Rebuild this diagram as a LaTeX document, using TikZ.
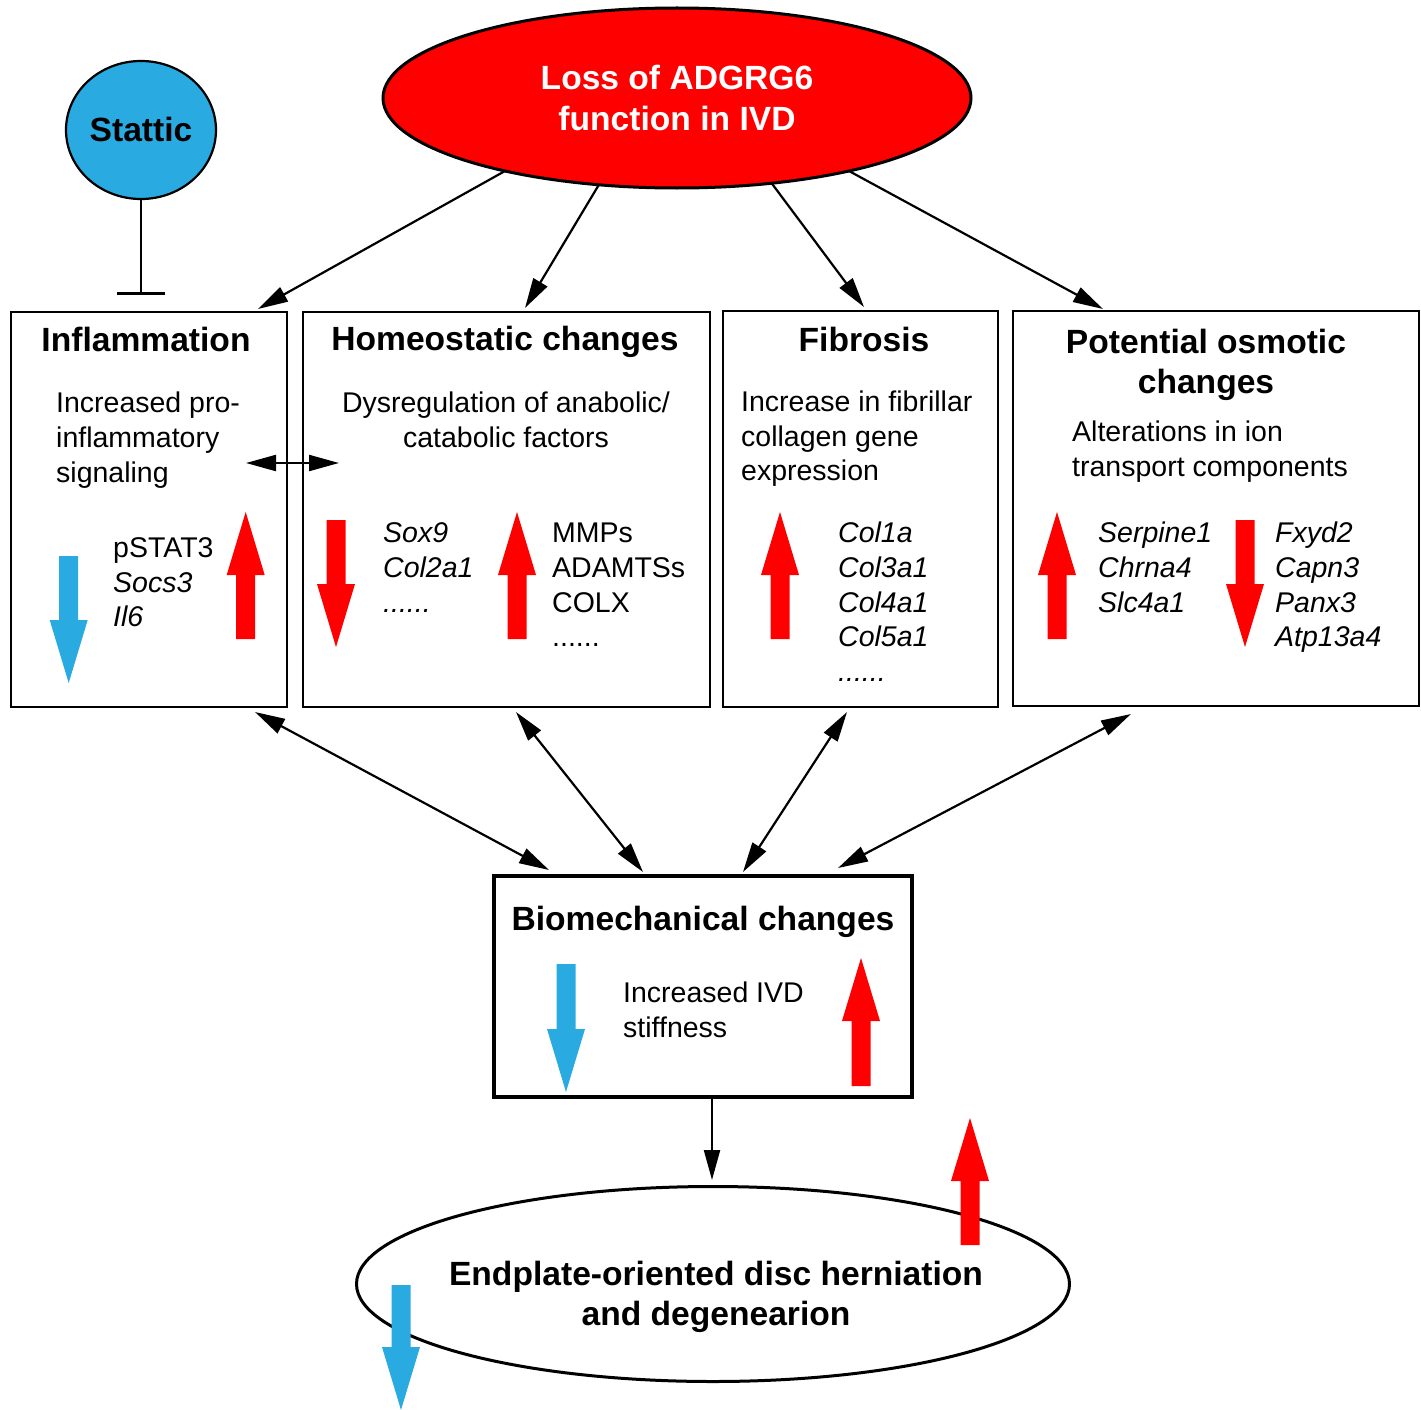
\documentclass[tikz,border=0pt]{standalone}
\usepackage{fontspec}
\setmainfont{Liberation Sans}
\usetikzlibrary{arrows.meta,shapes.geometric}
\definecolor{myred}{HTML}{FF0000}
\definecolor{myblue}{HTML}{29ABE2}
% block arrows: colour, x, tip y, bottom y  /  colour, x, top y, tip y
\newcommand\upArr[4]{\fill[#1] (#2,#3) -- ({#2+19},{#3+63}) -- ({#2+9.5},{#3+63}) -- ({#2+9.5},#4) -- ({#2-9.5},#4) -- ({#2-9.5},{#3+63}) -- ({#2-19},{#3+63}) -- cycle;}
\newcommand\downArr[4]{\fill[#1] ({#2-9.5},#3) -- ({#2+9.5},#3) -- ({#2+9.5},{#4-63}) -- ({#2+19},{#4-63}) -- (#2,#4) -- ({#2-19},{#4-63}) -- ({#2-9.5},{#4-63}) -- cycle;}
\tikzset{
  ttl/.style={font=\fontsize{33.6}{40}\selectfont\bfseries, inner sep=0, anchor=base},
  txt/.style={font=\fontsize{28.5}{35}\selectfont, inner sep=0, anchor=base west},
  ctxt/.style={txt, anchor=base},
  gene/.style={font=\fontsize{28.5}{35}\selectfont\itshape, inner sep=0, anchor=base west},
  panel/.style={draw, line width=2.5pt, anchor=north west, inner sep=0, outer sep=0},
  arr/.style={line width=2.2pt, -{Triangle[length=30pt,width=16pt]}},
  darr/.style={line width=2.2pt, {Triangle[length=30pt,width=16pt]}-{Triangle[length=30pt,width=16pt]}},
}
\begin{document}
\begin{tikzpicture}[x=1pt,y=-1pt]
\useasboundingbox[fill=white] (0,0) rectangle (1421,1410);

% top ellipse
\node[ellipse, draw, line width=3pt, fill=myred, minimum width=588pt, minimum height=180pt, inner sep=0, outer sep=0] (loss) at (677,98) {};
\node[ttl, text=white] (loss1) at (677,90) {Loss of ADGRG6};
\node[ttl, text=white] (loss2) at (677,131) {function in IVD};

% Stattic
\node[ellipse, draw, line width=2.2pt, fill=myblue, minimum width=150pt, minimum height=138pt, inner sep=0, outer sep=0] (stattic) at (141,130) {};
\node[ttl] (stattxt) at (141,142) {Stattic};
\coordinate (bar) at (141,295);
\draw[line width=2.2pt, -{Bar[width=48pt,line width=2.8pt]}] (stattic.south) -- (bar);

% panels
\node[panel, minimum width=276pt, minimum height=395pt] (infl) at (11,312) {};
\node[panel, minimum width=407pt, minimum height=395pt] (homeo) at (303,312) {};
\node[panel, minimum width=275pt, minimum height=396pt] (fib) at (723,311) {};
\node[panel, minimum width=406pt, minimum height=395pt] (osm) at (1013,311) {};
\node[panel, line width=4pt, minimum width=418pt, minimum height=221pt] (bio) at (494,876) {};

% bottom ellipse
\node[ellipse, draw, line width=3pt, minimum width=713pt, minimum height=195pt, inner sep=0, outer sep=0] (endp) at (713,1284) {};
\node[ttl] (endp1) at (716,1285) {Endplate-oriented disc herniation};
\node[ttl] (endp2) at (716,1325) {and degenearion};

% Inflammation panel
\node[ttl] (inflT) at (146,351) {Inflammation};
\node[txt] (inflA) at (56,412) {Increased pro-};
\node[txt] (inflB) at (56,447) {inflammatory};
\node[txt] (inflC) at (56,482) {signaling};
\node[txt] (inflG1) at (113,557) {pSTAT3};
\node[gene] (inflG2) at (113,592) {Socs3};
\node[gene] (inflG3) at (113,626) {Il6};
\downArr{myblue}{68.7}{556}{683}
\upArr{myred}{245.7}{512}{639}

% Homeostatic panel
\node[ttl] (homT) at (505,350) {Homeostatic changes};
\node[ctxt] (homA) at (506,412) {Dysregulation of anabolic/};
\node[ctxt] (homB) at (506,447) {catabolic factors};
\node[gene] (homG1) at (383,542) {Sox9};
\node[gene] (homG2) at (383,577) {Col2a1};
\node[gene] (homG3) at (383,612) {......};
\node[txt] (homH1) at (552,542) {MMPs};
\node[txt] (homH2) at (552,577) {ADAMTSs};
\node[txt] (homH3) at (552,612) {COLX};
\node[txt] (homH4) at (552,646) {......};
\downArr{myred}{336}{520}{647}
\upArr{myred}{517}{512}{639}

% Fibrosis panel
\node[ttl] (fibT) at (864,351) {Fibrosis};
\node[txt] (fibA) at (741,411) {Increase in fibrillar};
\node[txt] (fibB) at (741,446) {collagen gene};
\node[txt] (fibC) at (741,480) {expression};
\node[gene] (fibG1) at (838,542) {Col1a};
\node[gene] (fibG2) at (838,577) {Col3a1};
\node[gene] (fibG3) at (838,612) {Col4a1};
\node[gene] (fibG4) at (838,646) {Col5a1};
\node[gene] (fibG5) at (838,681) {......};
\upArr{myred}{780}{512}{639}

% Osmotic panel
\node[ttl] (osmT1) at (1206,353) {Potential osmotic};
\node[ttl] (osmT2) at (1206,393) {changes};
\node[txt] (osmA) at (1072,441) {Alterations in ion};
\node[txt] (osmB) at (1072,476) {transport components};
\node[gene] (osmG1) at (1098,542) {Serpine1};
\node[gene] (osmG2) at (1098,577) {Chrna4};
\node[gene] (osmG3) at (1098,612) {Slc4a1};
\node[gene] (osmH1) at (1275,542) {Fxyd2};
\node[gene] (osmH2) at (1275,577) {Capn3};
\node[gene] (osmH3) at (1275,612) {Panx3};
\node[gene] (osmH4) at (1275,646) {Atp13a4};
\upArr{myred}{1057}{512}{639}
\downArr{myred}{1245}{520}{647}

% Biomechanical panel
\node[ttl] (bioT) at (703,930) {Biomechanical changes};
\node[txt] (bioA) at (623,1002) {Increased IVD};
\node[txt] (bioB) at (623,1037) {stiffness};
\downArr{myblue}{566}{964}{1092}
\upArr{myred}{861}{958}{1086}

% arrows on bottom ellipse
\upArr{myred}{970}{1118}{1245}
\downArr{myblue}{401}{1285}{1410}

% connectors from top ellipse
\draw[arr] (loss.203) -- ([xshift=247pt,yshift=3pt]infl.north west);
\draw[arr] (loss.228) -- ([xshift=222pt,yshift=4pt]homeo.north west);
\draw[arr] (loss.318) -- ([xshift=141pt,yshift=4pt]fib.north west);
\draw[arr] (loss.337) -- ([xshift=90pt,yshift=2pt]osm.north west);

% double arrows to biomechanical
\draw[darr] ([xshift=244pt,yshift=-5pt]infl.south west) -- ([xshift=55pt,yshift=6pt]bio.north west);
\draw[darr] ([xshift=213pt,yshift=-5pt]homeo.south west) -- ([xshift=149pt,yshift=4pt]bio.north west);
\draw[darr] ([xshift=124pt,yshift=-5pt]fib.south west) -- ([xshift=249pt,yshift=4pt]bio.north west);
\draw[darr] ([xshift=118pt,yshift=-8pt]osm.south west) -- ([xshift=344pt,yshift=8pt]bio.north west);

% horizontal double arrow
\coordinate (hl) at (246,463);
\coordinate (hr) at (339,463);
\draw[darr] (hl) -- (hr);

% down arrow to bottom ellipse
\coordinate (dtip) at (712,1180);
\draw[arr] (bio.south -| dtip) -- (dtip);
\end{tikzpicture}
\end{document}
